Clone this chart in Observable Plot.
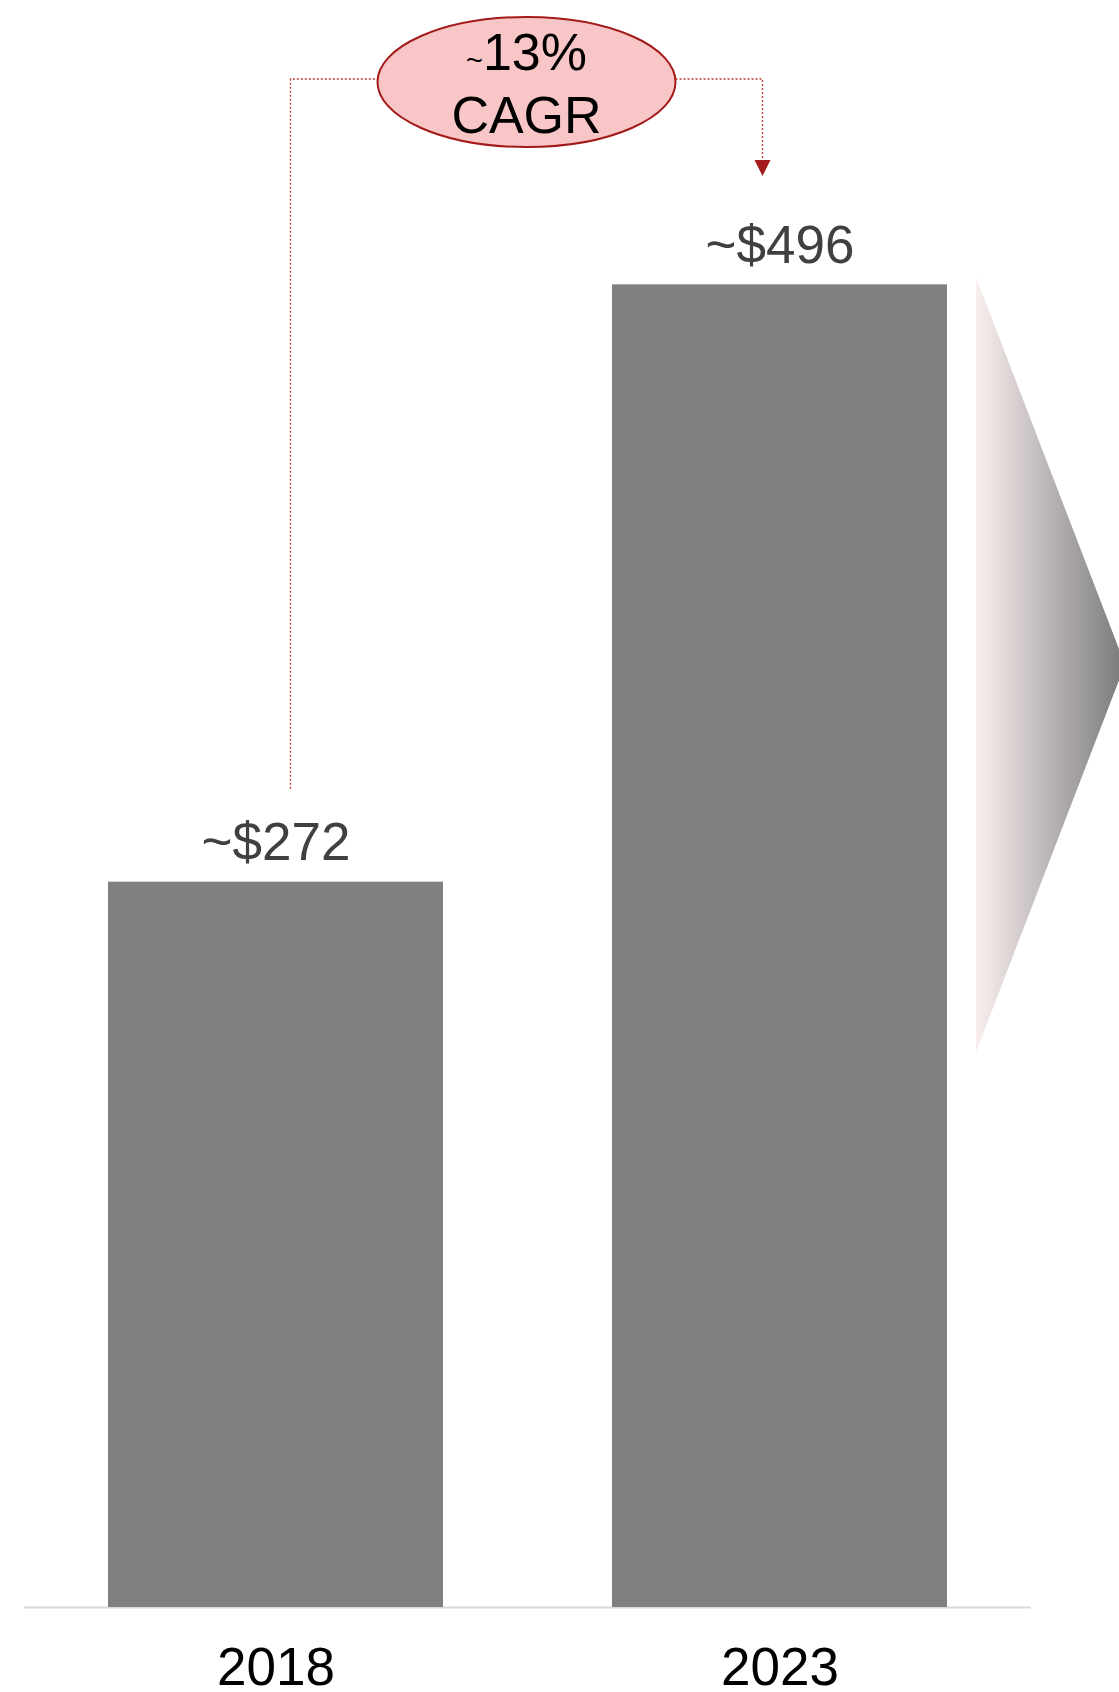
<!DOCTYPE html>
<html><head><meta charset="utf-8">
<script src="https://cdn.jsdelivr.net/npm/d3@7"></script>
<script src="https://cdn.jsdelivr.net/npm/@observablehq/plot@0.6"></script>
<style>body{margin:0;background:#fff;} svg{display:block;}</style>
</head><body><div id="chart"></div>
<script>
const years = ["2018", "2023"];
const values = [272, 496];
const labels = ["~$272", "~$496"];
const cagrTilde = "~";
const cagrPct = "13%";
const cagrWord = "CAGR";

const data = years.map((y, i) => ({year: y, value: values[i], label: labels[i]}));
const font = "'Liberation Sans', Arial, Helvetica, sans-serif";

const plot = Plot.plot({
  width: 1119, height: 1692,
  marginLeft: 24, marginRight: 88, marginTop: 7, marginBottom: 85,
  style: {fontFamily: font, background: "#fff"},
  x: {domain: years, paddingInner: 0.335, paddingOuter: 0.166, label: null},
  y: {domain: [0, 600], axis: null},
  marks: [
    Plot.ruleY([0], {stroke: "#d9d9d9", strokeWidth: 2}),
    Plot.barY(data, {x: "year", y: "value", fill: "#808080"}),
    Plot.text(data, {x: "year", y: "value", text: "label", dy: -22, lineAnchor: "bottom", fontSize: 53, fill: "#404040"}),
    Plot.axisX({tickSize: 0, tickPadding: 40, fontSize: 53, fill: "#000", label: null})
  ]
});
document.getElementById("chart").appendChild(plot);

const svg = d3.select(plot);
const xs = plot.scale("x"), ys = plot.scale("y");
const bw = xs.bandwidth;
const cx1 = xs.apply(years[0]) + bw / 2 + 15;
const cx2 = xs.apply(years[1]) + bw / 2 - 17;
const ecx = (cx1 + cx2) / 2, ecy = 82, erx = 149, ery = 65, lineY = 79;
const red = "#a31a1a";

const defs = svg.append("defs");
const grad = defs.append("linearGradient").attr("id", "fadeGrad").attr("x1", 0).attr("x2", 1).attr("y1", 0).attr("y2", 0);
grad.append("stop").attr("offset", 0).attr("stop-color", "#faefef");
grad.append("stop").attr("offset", 0.95).attr("stop-color", "#7f7f7f");
grad.append("stop").attr("offset", 1).attr("stop-color", "#7f7f7f");

// fading triangle to the right of the last bar
const tx = xs.apply(years[1]) + bw + 29;
const tTop = ys.apply(values[1]) - 7;
const tBot = 1052, tipX = 1125, tipY = (tTop + tBot) / 2;
svg.append("path")
  .attr("d", `M${tx},${tTop}L${tipX},${tipY}L${tx},${tBot}Z`)
  .attr("fill", "url(#fadeGrad)");

// connectors
const g = svg.append("g").attr("fill", "none").attr("stroke", "#c0392b").attr("stroke-width", 1.3).attr("stroke-dasharray", "2,2");
g.append("path").attr("d", `M${cx1},${ys.apply(values[0]) - 93}V${lineY}H${ecx - erx}`);
g.append("path").attr("d", `M${ecx + erx},${lineY}H${cx2}V${162}`);
svg.append("path").attr("d", `M${cx2 - 8},${160}L${cx2 + 8},${160}L${cx2},${176}Z`).attr("fill", red);

// ellipse
svg.append("ellipse").attr("cx", ecx).attr("cy", ecy).attr("rx", erx).attr("ry", ery)
  .attr("fill", "#f8c6c6").attr("stroke", red).attr("stroke-width", 2);
const t1 = svg.append("text").attr("x", ecx).attr("y", 70).attr("text-anchor", "middle")
  .attr("font-family", font).attr("font-size", 52).attr("fill", "#000");
t1.append("tspan").attr("font-size", 29).text(cagrTilde);
t1.append("tspan").text(cagrPct);
svg.append("text").attr("x", ecx).attr("y", 133).attr("text-anchor", "middle")
  .attr("font-family", font).attr("font-size", 52).attr("fill", "#000").text(cagrWord);
</script>
</body></html>
